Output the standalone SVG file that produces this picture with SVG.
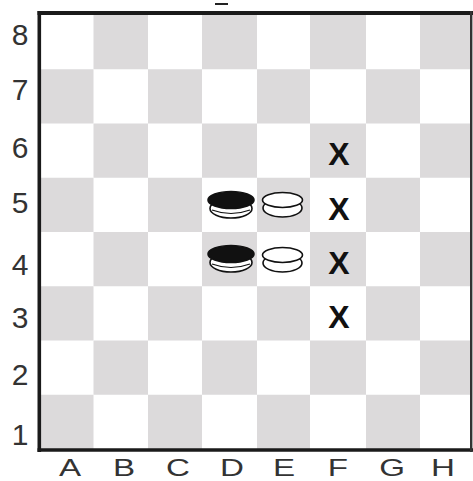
<svg xmlns="http://www.w3.org/2000/svg" width="473" height="481" viewBox="0 0 473 481">
<style>
.sq{fill:#dcdadb}
.rank{font-family:"Liberation Sans",Arial,sans-serif;font-size:30px;fill:#333;text-anchor:middle}
.file{font-family:"Liberation Sans",Arial,sans-serif;font-size:24px;fill:#333;text-anchor:middle}
.mark{font-family:"Liberation Sans",Arial,sans-serif;font-size:32px;font-weight:bold;fill:#111;text-anchor:middle}
.pc{stroke:#111;stroke-width:1.6}
</style>
<defs>
<g id="blackPiece">
<ellipse cx="0" cy="8.5" rx="21" ry="9.5" fill="#fff" class="pc"/>
<path d="M-19,10 Q0,17 19,10" fill="none" stroke="#111" stroke-width="1.2"/>
<ellipse cx="0" cy="0" rx="23" ry="8.5" fill="#111" class="pc"/>
</g>
<g id="whitePiece">
<ellipse cx="0" cy="8" rx="19.5" ry="9" fill="#fff" class="pc"/>
<ellipse cx="0" cy="0" rx="20" ry="7.5" fill="#fff" class="pc"/>
</g>
</defs>
<rect x="0" y="0" width="473" height="481" fill="#fff"/>
<line x1="215" y1="4" x2="228" y2="4" stroke="#222" stroke-width="2"/>
<g id="board">
<rect x="41" y="15" width="429" height="434" fill="#fff"/>
<rect class="sq" x="93.5" y="15" width="54.5" height="54.25"/>
<rect class="sq" x="202" y="15" width="55" height="54.25"/>
<rect class="sq" x="310" y="15" width="56" height="54.25"/>
<rect class="sq" x="420" y="15" width="50" height="54.25"/>
<rect class="sq" x="41" y="69.25" width="52.5" height="54.25"/>
<rect class="sq" x="148" y="69.25" width="54" height="54.25"/>
<rect class="sq" x="257" y="69.25" width="53" height="54.25"/>
<rect class="sq" x="366" y="69.25" width="54" height="54.25"/>
<rect class="sq" x="93.5" y="123.5" width="54.5" height="54.25"/>
<rect class="sq" x="202" y="123.5" width="55" height="54.25"/>
<rect class="sq" x="310" y="123.5" width="56" height="54.25"/>
<rect class="sq" x="420" y="123.5" width="50" height="54.25"/>
<rect class="sq" x="41" y="177.75" width="52.5" height="54.25"/>
<rect class="sq" x="148" y="177.75" width="54" height="54.25"/>
<rect class="sq" x="257" y="177.75" width="53" height="54.25"/>
<rect class="sq" x="366" y="177.75" width="54" height="54.25"/>
<rect class="sq" x="93.5" y="232" width="54.5" height="54.25"/>
<rect class="sq" x="202" y="232" width="55" height="54.25"/>
<rect class="sq" x="310" y="232" width="56" height="54.25"/>
<rect class="sq" x="420" y="232" width="50" height="54.25"/>
<rect class="sq" x="41" y="286.25" width="52.5" height="54.25"/>
<rect class="sq" x="148" y="286.25" width="54" height="54.25"/>
<rect class="sq" x="257" y="286.25" width="53" height="54.25"/>
<rect class="sq" x="366" y="286.25" width="54" height="54.25"/>
<rect class="sq" x="93.5" y="340.5" width="54.5" height="54.25"/>
<rect class="sq" x="202" y="340.5" width="55" height="54.25"/>
<rect class="sq" x="310" y="340.5" width="56" height="54.25"/>
<rect class="sq" x="420" y="340.5" width="50" height="54.25"/>
<rect class="sq" x="41" y="394.75" width="52.5" height="54.25"/>
<rect class="sq" x="148" y="394.75" width="54" height="54.25"/>
<rect class="sq" x="257" y="394.75" width="53" height="54.25"/>
<rect class="sq" x="366" y="394.75" width="54" height="54.25"/>
<line x1="39.3" y1="11" x2="39.3" y2="452" stroke="#1a1a1a" stroke-width="3.6"/>
<line x1="37.5" y1="13" x2="473" y2="13" stroke="#1a1a1a" stroke-width="4"/>
<line x1="37.5" y1="450" x2="473" y2="450" stroke="#1a1a1a" stroke-width="3.6"/>
<line x1="471.2" y1="11" x2="471.2" y2="452" stroke="#333" stroke-width="2.4"/>
</g>
<g id="ranks">
<text class="rank" x="20" y="45">8</text>
<text class="rank" x="20" y="100">7</text>
<text class="rank" x="20" y="158">6</text>
<text class="rank" x="20" y="213">5</text>
<text class="rank" x="20" y="275" fill="#555">4</text>
<text class="rank" x="20" y="328">3</text>
<text class="rank" x="20" y="385">2</text>
<text class="rank" x="20" y="445">1</text>
</g>
<g id="files" transform="scale(1.38,1)">
<text class="file" x="50.7" y="476">A</text>
<text class="file" x="89.9" y="476">B</text>
<text class="file" x="129" y="476">C</text>
<text class="file" x="168.1" y="476">D</text>
<text class="file" x="205.8" y="476">E</text>
<text class="file" x="244.9" y="476">F</text>
<text class="file" x="284.1" y="476">G</text>
<text class="file" x="321" y="476">H</text>
</g>
<g id="piece-d5"><use href="#blackPiece" x="231" y="200"/></g>
<g id="piece-e5"><use href="#whitePiece" x="282.5" y="200"/></g>
<g id="piece-d4"><use href="#blackPiece" x="231" y="254"/></g>
<g id="piece-e4"><use href="#whitePiece" x="282.5" y="255"/></g>
<g id="marks">
<text class="mark" x="339" y="165">X</text>
<text class="mark" x="339" y="220">X</text>
<text class="mark" x="339" y="274">X</text>
<text class="mark" x="339" y="328">X</text>
</g>
</svg>
